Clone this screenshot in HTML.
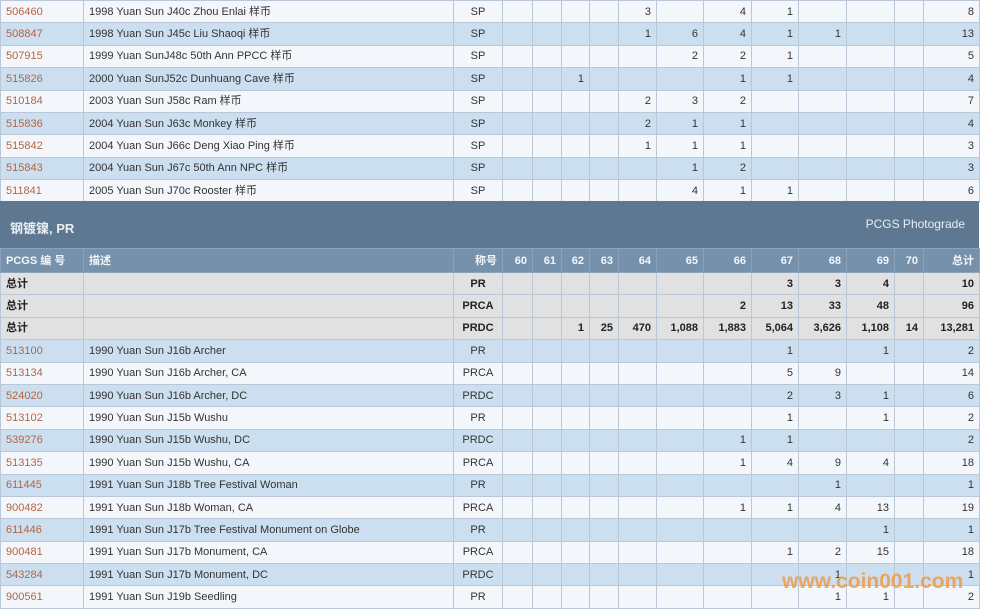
<!DOCTYPE html>
<html><head><meta charset="utf-8"><style>
body{margin:0;width:981px;height:610px;overflow:hidden;background:#fff;font-family:"Liberation Sans","Noto Sans CJK SC",sans-serif;font-size:11px;color:#333;position:relative}
table{border-collapse:collapse;table-layout:fixed;position:absolute;left:0;width:979px}
td{border:1px solid #b9c7d6;padding:0 5px;height:21.4px;text-align:right;white-space:nowrap;overflow:hidden;line-height:12px}
td:nth-child(1),td:nth-child(2){text-align:left}
td:nth-child(3){text-align:center}
tr.w td{background:#f3f7fb}
tr.b td{background:#cbdff0}
tr.t td{background:#e1e1e1;font-weight:bold;color:#222}
td a{color:#b5653f;text-decoration:none}
.band{position:absolute;left:0;top:201px;width:979px;height:47px;background:#5e7891;color:#e8eef4}
.band .l{position:absolute;left:10px;top:17px;font-size:13px;font-weight:bold}
.band .r{position:absolute;right:14px;top:16px;font-size:12px}
.hdr td{background:#7691ab;color:#f4f7fa;font-weight:bold;height:23px;border-color:#8aa2ba}
.wm{position:absolute;left:782px;top:570px;font-size:21px;font-weight:bold;color:rgba(240,150,60,0.8);letter-spacing:0px}
</style></head><body>
<table style="top:0">
<colgroup><col style="width:83px"><col style="width:370px"><col style="width:49px"><col style="width:30px"><col style="width:29px"><col style="width:28px"><col style="width:29px"><col style="width:38px"><col style="width:47px"><col style="width:48px"><col style="width:47px"><col style="width:48px"><col style="width:48px"><col style="width:29px"><col style="width:56px"></colgroup>
<tr class="w"><td><a>506460</a></td><td>1998 Yuan Sun J40c Zhou Enlai 样币</td><td>SP</td><td></td><td></td><td></td><td></td><td>3</td><td></td><td>4</td><td>1</td><td></td><td></td><td></td><td>8</td></tr>
<tr class="b"><td><a>508847</a></td><td>1998 Yuan Sun J45c Liu Shaoqi 样币</td><td>SP</td><td></td><td></td><td></td><td></td><td>1</td><td>6</td><td>4</td><td>1</td><td>1</td><td></td><td></td><td>13</td></tr>
<tr class="w"><td><a>507915</a></td><td>1999 Yuan SunJ48c 50th Ann PPCC 样币</td><td>SP</td><td></td><td></td><td></td><td></td><td></td><td>2</td><td>2</td><td>1</td><td></td><td></td><td></td><td>5</td></tr>
<tr class="b"><td><a>515826</a></td><td>2000 Yuan SunJ52c Dunhuang Cave 样币</td><td>SP</td><td></td><td></td><td>1</td><td></td><td></td><td></td><td>1</td><td>1</td><td></td><td></td><td></td><td>4</td></tr>
<tr class="w"><td><a>510184</a></td><td>2003 Yuan Sun J58c Ram 样币</td><td>SP</td><td></td><td></td><td></td><td></td><td>2</td><td>3</td><td>2</td><td></td><td></td><td></td><td></td><td>7</td></tr>
<tr class="b"><td><a>515836</a></td><td>2004 Yuan Sun J63c Monkey 样币</td><td>SP</td><td></td><td></td><td></td><td></td><td>2</td><td>1</td><td>1</td><td></td><td></td><td></td><td></td><td>4</td></tr>
<tr class="w"><td><a>515842</a></td><td>2004 Yuan Sun J66c Deng Xiao Ping 样币</td><td>SP</td><td></td><td></td><td></td><td></td><td>1</td><td>1</td><td>1</td><td></td><td></td><td></td><td></td><td>3</td></tr>
<tr class="b"><td><a>515843</a></td><td>2004 Yuan Sun J67c 50th Ann NPC 样币</td><td>SP</td><td></td><td></td><td></td><td></td><td></td><td>1</td><td>2</td><td></td><td></td><td></td><td></td><td>3</td></tr>
<tr class="w"><td><a>511841</a></td><td>2005 Yuan Sun J70c Rooster 样币</td><td>SP</td><td></td><td></td><td></td><td></td><td></td><td>4</td><td>1</td><td>1</td><td></td><td></td><td></td><td>6</td></tr>
</table>
<div class="band"><span class="l">钢镀镍, PR</span><span class="r">PCGS Photograde</span></div>
<table style="top:248px">
<colgroup><col style="width:83px"><col style="width:370px"><col style="width:49px"><col style="width:30px"><col style="width:29px"><col style="width:28px"><col style="width:29px"><col style="width:38px"><col style="width:47px"><col style="width:48px"><col style="width:47px"><col style="width:48px"><col style="width:48px"><col style="width:29px"><col style="width:56px"></colgroup>
<tr class="hdr"><td>PCGS 编 号</td><td>描述</td><td style="text-align:right">称号</td><td>60</td><td>61</td><td>62</td><td>63</td><td>64</td><td>65</td><td>66</td><td>67</td><td>68</td><td>69</td><td>70</td><td>总计</td></tr>
<tr class="t"><td>总计</td><td></td><td>PR</td><td></td><td></td><td></td><td></td><td></td><td></td><td></td><td>3</td><td>3</td><td>4</td><td></td><td>10</td></tr>
<tr class="t"><td>总计</td><td></td><td>PRCA</td><td></td><td></td><td></td><td></td><td></td><td></td><td>2</td><td>13</td><td>33</td><td>48</td><td></td><td>96</td></tr>
<tr class="t"><td>总计</td><td></td><td>PRDC</td><td></td><td></td><td>1</td><td>25</td><td>470</td><td>1,088</td><td>1,883</td><td>5,064</td><td>3,626</td><td>1,108</td><td>14</td><td>13,281</td></tr>
<tr class="b"><td><a>513100</a></td><td>1990 Yuan Sun J16b Archer</td><td>PR</td><td></td><td></td><td></td><td></td><td></td><td></td><td></td><td>1</td><td></td><td>1</td><td></td><td>2</td></tr>
<tr class="w"><td><a>513134</a></td><td>1990 Yuan Sun J16b Archer, CA</td><td>PRCA</td><td></td><td></td><td></td><td></td><td></td><td></td><td></td><td>5</td><td>9</td><td></td><td></td><td>14</td></tr>
<tr class="b"><td><a>524020</a></td><td>1990 Yuan Sun J16b Archer, DC</td><td>PRDC</td><td></td><td></td><td></td><td></td><td></td><td></td><td></td><td>2</td><td>3</td><td>1</td><td></td><td>6</td></tr>
<tr class="w"><td><a>513102</a></td><td>1990 Yuan Sun J15b Wushu</td><td>PR</td><td></td><td></td><td></td><td></td><td></td><td></td><td></td><td>1</td><td></td><td>1</td><td></td><td>2</td></tr>
<tr class="b"><td><a>539276</a></td><td>1990 Yuan Sun J15b Wushu, DC</td><td>PRDC</td><td></td><td></td><td></td><td></td><td></td><td></td><td>1</td><td>1</td><td></td><td></td><td></td><td>2</td></tr>
<tr class="w"><td><a>513135</a></td><td>1990 Yuan Sun J15b Wushu, CA</td><td>PRCA</td><td></td><td></td><td></td><td></td><td></td><td></td><td>1</td><td>4</td><td>9</td><td>4</td><td></td><td>18</td></tr>
<tr class="b"><td><a>611445</a></td><td>1991 Yuan Sun J18b Tree Festival Woman</td><td>PR</td><td></td><td></td><td></td><td></td><td></td><td></td><td></td><td></td><td>1</td><td></td><td></td><td>1</td></tr>
<tr class="w"><td><a>900482</a></td><td>1991 Yuan Sun J18b Woman, CA</td><td>PRCA</td><td></td><td></td><td></td><td></td><td></td><td></td><td>1</td><td>1</td><td>4</td><td>13</td><td></td><td>19</td></tr>
<tr class="b"><td><a>611446</a></td><td>1991 Yuan Sun J17b Tree Festival Monument on Globe</td><td>PR</td><td></td><td></td><td></td><td></td><td></td><td></td><td></td><td></td><td></td><td>1</td><td></td><td>1</td></tr>
<tr class="w"><td><a>900481</a></td><td>1991 Yuan Sun J17b Monument, CA</td><td>PRCA</td><td></td><td></td><td></td><td></td><td></td><td></td><td></td><td>1</td><td>2</td><td>15</td><td></td><td>18</td></tr>
<tr class="b"><td><a>543284</a></td><td>1991 Yuan Sun J17b Monument, DC</td><td>PRDC</td><td></td><td></td><td></td><td></td><td></td><td></td><td></td><td></td><td>1</td><td></td><td></td><td>1</td></tr>
<tr class="w"><td><a>900561</a></td><td>1991 Yuan Sun J19b Seedling</td><td>PR</td><td></td><td></td><td></td><td></td><td></td><td></td><td></td><td></td><td>1</td><td>1</td><td></td><td>2</td></tr>
</table>
<div class="wm">www.coin001.com</div>
</body></html>
